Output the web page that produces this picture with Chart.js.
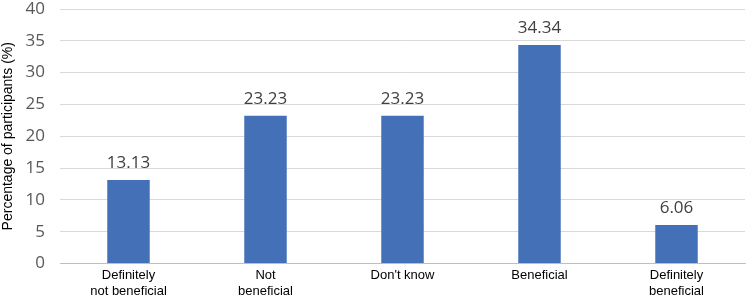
<!DOCTYPE html>
<html lang="en">
<head>
  <meta charset="UTF-8" />
  <title>Perceived benefit</title>
  <script src="https://cdn.jsdelivr.net/npm/chart.js"></script>
  <style>
    html, body { margin: 0; padding: 0; background: #fff; }
    #wrap { width: 750px; height: 299px; }
  </style>
</head>
<body>
  <div id="wrap"><canvas id="benefitChart"></canvas></div>
  <script>
    // Data
    const categories = [
      ['Definitely', 'not beneficial'],
      ['Not', 'beneficial'],
      "Don't know",
      'Beneficial',
      ['Definitely', 'beneficial']
    ];
    const percentages = [13.13, 23.23, 23.23, 34.34, 6.06];

    // value labels above bars
    const barLabels = {
      id: 'barLabels',
      afterDatasetsDraw(chart) {
        const ctx = chart.ctx;
        const meta = chart.getDatasetMeta(0);
        ctx.save();
        ctx.font = '17px "Open Sans", "DejaVu Sans", sans-serif';
        ctx.fillStyle = '#404040';
        ctx.textAlign = 'center';
        ctx.textBaseline = 'alphabetic';
        meta.data.forEach((bar, i) => {
          ctx.fillText(percentages[i].toFixed(2), bar.x, bar.y - 12);
        });
        ctx.restore();
      }
    };

    new Chart(document.getElementById('benefitChart'), {
      type: 'bar',
      data: {
        labels: categories,
        datasets: [{
          data: percentages,
          backgroundColor: '#4370b7',
          categoryPercentage: 1,
          barPercentage: 0.31
        }]
      },
      options: {
        responsive: true,
        maintainAspectRatio: false,
        animation: false,
        layout: { padding: { top: 0, right: 5, left: 0, bottom: -5 } },
        plugins: {
          legend: { display: false },
          tooltip: { enabled: false }
        },
        scales: {
          x: {
            grid: { display: false, drawTicks: false },
            border: { color: '#bfbfbf', width: 1 },
            ticks: {
              color: '#000',
              padding: 4,
              maxRotation: 0,
              autoSkip: false,
              font: { family: '"Liberation Sans", Arial, sans-serif', size: 13, lineHeight: 1.25 }
            }
          },
          y: {
            min: 0,
            max: 40,
            afterFit(scale) {
              // fixed axis width and small top inset, like the original
              scale.width = 60;
              scale.paddingTop = 9;
              scale.paddingBottom = 0;
            },
            ticks: {
              stepSize: 5,
              color: '#595959',
              padding: 15,
              font: { family: '"Open Sans", "DejaVu Sans", sans-serif', size: 17 }
            },
            grid: { color: '#d9d9d9', drawTicks: false },
            border: { display: false },
            title: {
              display: true,
              text: 'Percentage of participants (%)',
              color: '#000',
              padding: { top: 0, bottom: 0 },
              font: { family: '"Liberation Sans", Arial, sans-serif', size: 14 }
            }
          }
        }
      },
      plugins: [barLabels]
    });
  </script>
</body>
</html>
